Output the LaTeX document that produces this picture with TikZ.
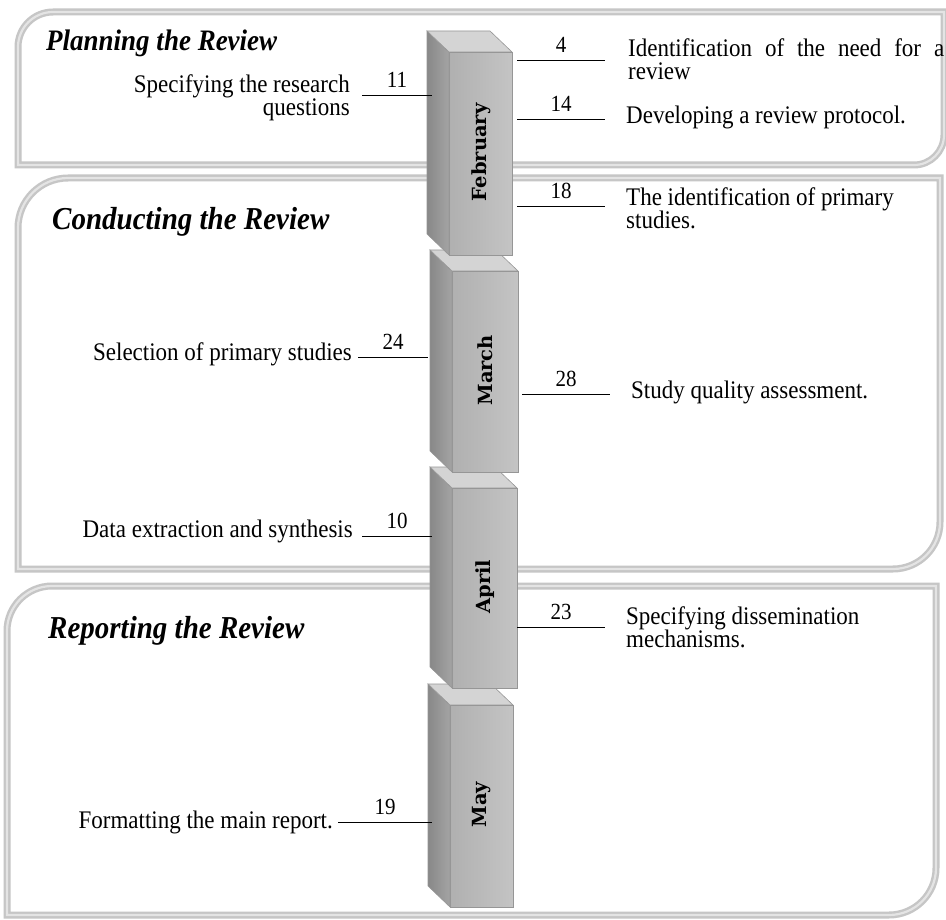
\documentclass[tikz,border=0pt]{standalone}
\usepackage{fontspec}
\newfontfamily\tnr{Liberation Serif}
\newfontfamily\mfont{DejaVu Serif}
\usetikzlibrary{calc}
\definecolor{panelc}{RGB}{198,198,198}
\definecolor{panelin}{RGB}{228,228,228}
\definecolor{frontl}{RGB}{176,176,176}
\definecolor{frontr}{RGB}{196,196,196}
\definecolor{sidel}{RGB}{136,136,136}
\definecolor{sider}{RGB}{164,164,164}
\definecolor{topc}{RGB}{212,212,212}
\definecolor{edgec}{RGB}{150,150,150}
\tikzset{
  panel/.style={draw=panelc, line width=7pt},
  panelhi/.style={draw=panelin, line width=2.2pt},
  frontface/.style={draw=edgec, line width=0.6pt, left color=frontl, right color=frontr, inner sep=0pt, anchor=north west},
  sideface/.style={draw=edgec, line width=0.6pt, left color=sidel, right color=sider},
  topface/.style={draw=edgec, line width=0.6pt, fill=topc},
  month/.style={rotate=90, inner sep=0pt, font=\mfont\bfseries\fontsize{19.5}{19.5}\selectfont},
  conn/.style={draw=black, line width=0.9pt},
  num/.style={midway, above, inner sep=6pt, yscale=1.1, font=\tnr\fontsize{21}{21}\selectfont},
  txt/.style={inner sep=0pt, yscale=1.1, font={\tnr\fontsize{23}{21}\selectfont\lineskiplimit=-40pt}},
  title/.style={inner sep=0pt, anchor=west, yscale=1.1, font=\tnr\bfseries\itshape\fontsize{#1}{#1}\selectfont},
}
\newcommand\mblock[6]{%
  \path[sideface] (#2,#3) -- ++(-22,-21) -- ({#2-22},{#5-21}) -- (#2,#5) -- cycle;
  \path[topface] (#2,#3) -- ++(-22,-21) -- ({#4-22},{#3-21}) -- (#4,#3) -- cycle;
  \node[frontface, minimum width={#4-#2}, minimum height={#5-#3}] (#1) at (#2,#3) {};
  \node[month] (#1-label) at ([yshift=1.5pt]#1.center) {#6};
}
\newcommand\panelpath[6]{% left, top, right, bottom, r1, r2
  (#1,#4) -- ({#1},{#2+#5}) arc[start angle=180, end angle=270, radius=#5] -- (#3,#2) -- ({#3},{#4-#6}) arc[start angle=0, end angle=90, radius=#6] -- cycle
}
\begin{document}
\begin{tikzpicture}[x=1pt,y=-1pt]
\useasboundingbox (0,0) rectangle (946,920);
\fill[white] (0,0) rectangle (946,920);

% panels
\draw[panel] \panelpath{18}{12}{944}{165}{35}{30};
\draw[panelhi] \panelpath{18}{12}{944}{165}{35}{30};
\draw[panel] \panelpath{18}{178}{940}{569}{50}{47};
\draw[panelhi] \panelpath{18}{178}{940}{569}{50}{47};
\draw[panel] \panelpath{7}{586}{936}{915}{45}{47};
\draw[panelhi] \panelpath{7}{586}{936}{915}{45}{47};

% titles
\node[title=27] (t-plan) at (46,43) {Planning the Review};
\node[title=29] (t-cond) at (52,222) {Conducting the Review};
\node[title=29] (t-rep) at (48,631) {Reporting the Review};

% blocks (bottom first)
\mblock{may}{450}{705}{513}{907}{May}
\mblock{apr}{452}{488}{517}{688}{April}
\mblock{mar}{452}{271}{518}{472}{March}
\mblock{feb}{449}{52}{512}{255}{February}

% connectors
\coordinate (c11a) at (362,95);  \coordinate (c11b) at (432,95);
\coordinate (c4a) at (517,60);   \coordinate (c4b) at (605,60);
\coordinate (c14a) at (517,119); \coordinate (c14b) at (605,119);
\coordinate (c18a) at (517,206); \coordinate (c18b) at (605,206);
\coordinate (c24a) at (358,357); \coordinate (c24b) at (428,357);
\coordinate (c28a) at (522,394); \coordinate (c28b) at (610,394);
\coordinate (c10a) at (362,536); \coordinate (c10b) at (432,536);
\coordinate (c23a) at (517,627); \coordinate (c23b) at (605,627);
\coordinate (c19a) at (338,822); \coordinate (c19b) at (432,822);

\draw[conn] (c11a) -- node[num] (n11) {11} (c11b);
\draw[conn] (c4a) -- node[num] (n4) {4} (c4b);
\draw[conn] (c14a) -- node[num] (n14) {14} (c14b);
\draw[conn] (c18a) -- node[num] (n18) {18} (c18b);
\draw[conn] (c24a) -- node[num] (n24) {24} (c24b);
\draw[conn] (c28a) -- node[num] (n28) {28} (c28b);
\draw[conn] (c10a) -- node[num] (n10) {10} (c10b);
\draw[conn] (c23a) -- node[num] (n23) {23} (c23b);
\draw[conn] (c19a) -- node[num] (n19) {19} (c19b);

% texts right
\node[txt, anchor=west, align=left] (x4) at (628,59) {\makebox[316pt][s]{Identification of the need for a}\\review};
\node[txt, anchor=west] (x14) at (626,117) {Developing a review protocol.};
\node[txt, anchor=west, align=left] (x18) at (626,208.5) {The identification of primary\\studies.};
\node[txt, anchor=west] (x28) at (631,392) {Study quality assessment.};
\node[txt, anchor=west, align=left] (x23) at (626,627) {Specifying dissemination\\mechanisms.};

% texts left
\node[txt, anchor=east, align=right] (x11) at (350,98) {Specifying the research\\questions};
\node[txt, anchor=east] (x24) at (352,354) {Selection of primary studies};
\node[txt, anchor=east] (x10) at (353,531) {Data extraction and synthesis};
\node[txt, anchor=east] (x19) at (333,822) {Formatting the main report.};
\end{tikzpicture}
\end{document}
